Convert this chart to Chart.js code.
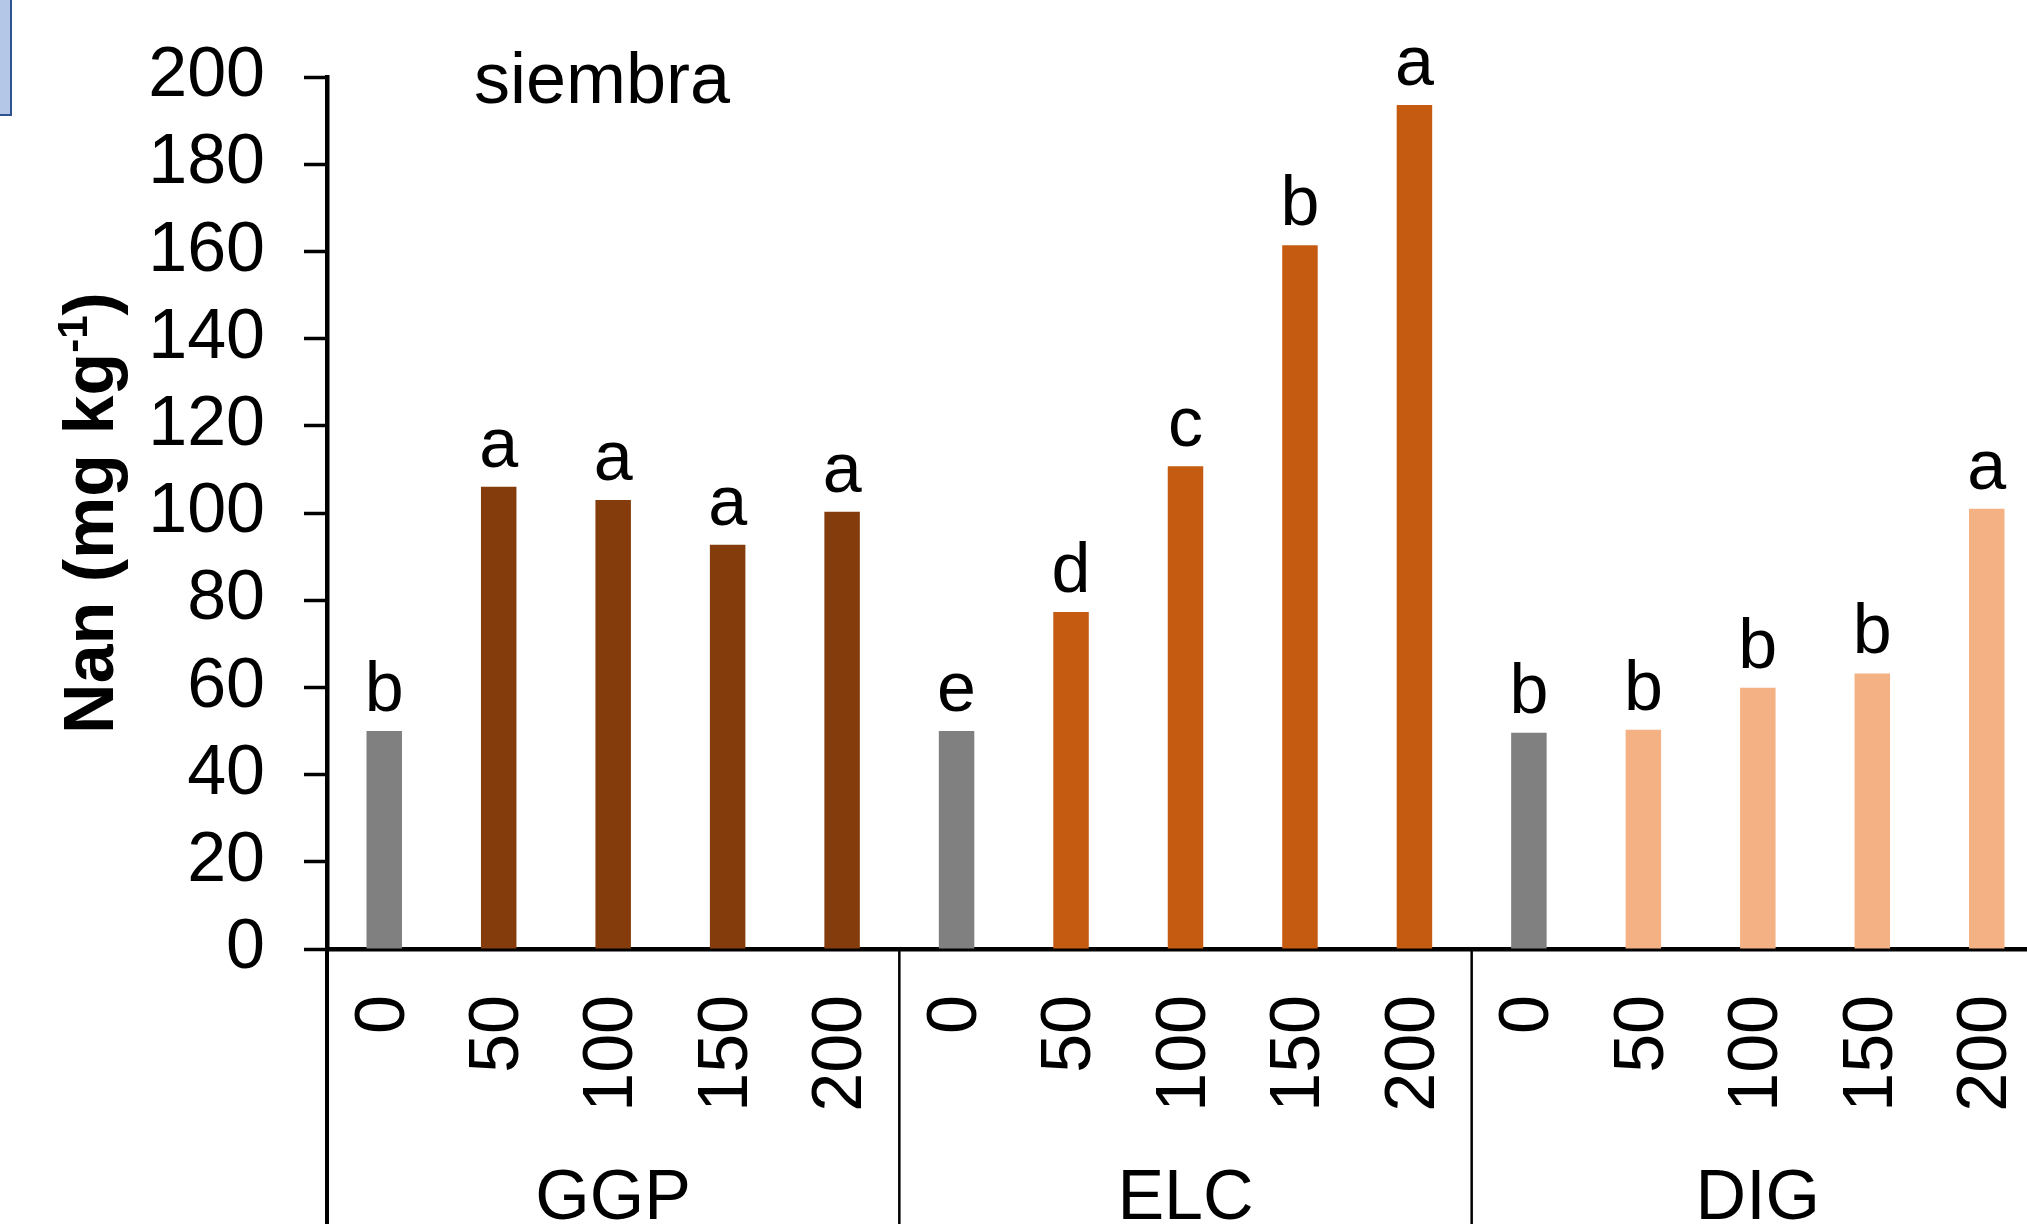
<!DOCTYPE html>
<html>
<head>
<meta charset="utf-8">
<script src="https://cdn.jsdelivr.net/npm/chart.js@4.4.1/dist/chart.umd.min.js"></script>
<style>
  html, body { margin: 0; padding: 0; background: #fff; overflow: hidden; }
  #wrap { position: relative; width: 2027px; height: 1224px; overflow: hidden; }
  #chart { position: absolute; left: 0; top: 0; }
  #tag { position: absolute; left: 0; top: 0; width: 10px; height: 114px;
         background: #b4c7e7; border-right: 2px solid #2f528f; border-bottom: 2px solid #2f528f; }
</style>
</head>
<body>
<div id="wrap">
  <canvas id="chart" width="2048" height="1224"></canvas>
  <div id="tag"></div>
</div>
<script>
// ===== DATOS =====
const groups = ['GGP', 'ELC', 'DIG']
const doses = ['0', '50', '100', '150', '200']
const ggpValues = [50, 106, 103, 92.7, 100.3]
const elcValues = [50, 77.3, 110.7, 161.4, 193.6]
const digValues = [49.6, 50.3, 59.9, 63.2, 101]
const ggpLetters = ['b', 'a', 'a', 'a', 'a']
const elcLetters = ['e', 'd', 'c', 'b', 'a']
const digLetters = ['b', 'b', 'b', 'b', 'a']
const yTicks = [0, 20, 40, 60, 80, 100, 120, 140, 160, 180, 200]
const panelLabel = 'siembra'

// colores
const controlColor = '#808080'
const groupColors = ['#843c0c', '#c55a11', '#f4b183']

const FONT = '"Liberation Sans", Arial, sans-serif'

// ===== CONSTRUCCIÓN =====
const labels = []
const values = []
const colors = []
const letters = []
;[ggpValues, elcValues, digValues].forEach((vals, g) => {
  const lets = [ggpLetters, elcLetters, digLetters][g]
  vals.forEach((v, i) => {
    labels.push(doses[i])
    values.push(v)
    colors.push(i === 0 ? controlColor : groupColors[g])
    letters.push(lets[i])
  })
})

// letras sobre las barras, etiqueta del panel, título del eje y grupos
const annotations = {
  id: 'annotations',
  afterDatasetsDraw(chart) {
    const ctx = chart.ctx
    const area = chart.chartArea
    const x = chart.scales.x
    const meta = chart.getDatasetMeta(0)

    ctx.save()
    ctx.fillStyle = '#000'
    ctx.textAlign = 'center'
    ctx.textBaseline = 'alphabetic'
    ctx.font = `70px ${FONT}`
    meta.data.forEach((bar, i) => {
      ctx.fillText(letters[i], bar.x, bar.y - 20)
    })

    // panel
    ctx.textAlign = 'left'
    ctx.font = `72px ${FONT}`
    ctx.fillText(panelLabel, 474, 103)

    // separadores de grupo
    ctx.strokeStyle = '#000'
    const n = doses.length
    for (let g = 0; g <= groups.length; g++) {
      const idx = g * n
      let gx
      if (idx === 0) gx = area.left
      else if (idx >= labels.length) gx = area.right
      else gx = (x.getPixelForTick(idx - 1) + x.getPixelForTick(idx)) / 2
      ctx.lineWidth = g === 0 ? 4 : 2.5
      ctx.beginPath()
      ctx.moveTo(gx, area.bottom)
      ctx.lineTo(gx, chart.height)
      ctx.stroke()
    }

    // nombres de grupo
    ctx.textAlign = 'center'
    ctx.font = `70px ${FONT}`
    groups.forEach((name, g) => {
      const a = x.getPixelForTick(g * n)
      const b = x.getPixelForTick(g * n + n - 1)
      ctx.fillText(name, (a + b) / 2, 1219)
    })

    // título del eje y con superíndice
    ctx.translate(113, (area.top + area.bottom) / 2)
    ctx.rotate(-Math.PI / 2)
    const main = 'Nan (mg kg'
    const sup = '-1'
    const close = ')'
    ctx.font = `bold 70px ${FONT}`
    const wMain = ctx.measureText(main).width
    const wClose = ctx.measureText(close).width
    ctx.font = `bold 42px ${FONT}`
    const wSup = ctx.measureText(sup).width
    const total = wMain + wSup + wClose
    let cx = -total / 2
    ctx.textAlign = 'left'
    ctx.font = `bold 70px ${FONT}`
    ctx.fillText(main, cx, 0)
    cx += wMain
    ctx.font = `bold 42px ${FONT}`
    ctx.fillText(sup, cx, -26)
    cx += wSup
    ctx.font = `bold 70px ${FONT}`
    ctx.fillText(close, cx, 0)
    ctx.restore()
  },
}

new Chart(document.getElementById('chart'), {
  type: 'bar',
  data: {
    labels: labels,
    datasets: [
      {
        data: values,
        backgroundColor: colors,
        borderWidth: 0,
        barPercentage: 0.31,
        categoryPercentage: 1.0,
      },
    ],
  },
  options: {
    responsive: false,
    animation: false,
    layout: { padding: { top: 77, left: 0, right: 4, bottom: 0 } },
    plugins: {
      legend: { display: false },
      tooltip: { enabled: false },
    },
    scales: {
      x: {
        offset: true,
        grid: { display: false, drawTicks: false },
        border: { display: true, color: '#000', width: 4.5 },
        ticks: {
          autoSkip: false,
          minRotation: 90,
          maxRotation: 90,
          padding: 46,
          color: '#000',
          font: { family: FONT, size: 70 },
        },
        afterFit(scale) {
          scale.height = 275
          scale.paddingLeft = 0
          scale.paddingRight = 0
        },
      },
      y: {
        min: 0,
        max: 200,
        afterBuildTicks(scale) {
          scale.ticks = yTicks.map((v) => ({ value: v }))
        },
        grid: {
          drawOnChartArea: false,
          drawTicks: true,
          tickLength: 23,
          tickWidth: 3.5,
          tickColor: '#000',
        },
        border: { display: true, color: '#000', width: 4.5 },
        ticks: {
          autoSkip: false,
          padding: 39,
          color: '#000',
          font: { family: FONT, size: 70 },
        },
        afterFit(scale) {
          scale.width = 327
          scale.paddingTop = 0
          scale.paddingBottom = 0
        },
      },
    },
  },
  plugins: [annotations],
})
</script>
</body>
</html>
